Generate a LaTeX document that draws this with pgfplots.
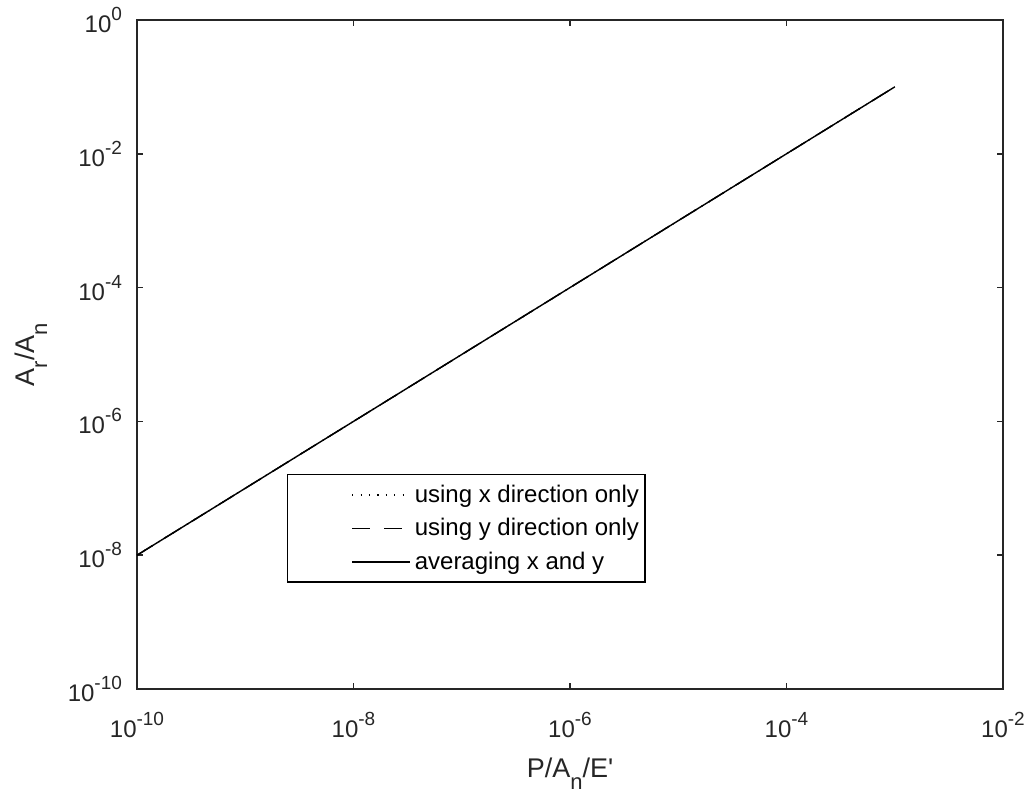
\documentclass[border=0pt]{standalone}
\usepackage{fontspec}
\setmainfont{Liberation Sans}
\usepackage{pgfplots}
\pgfplotsset{compat=1.18}
\definecolor{axgray}{gray}{0.15}
% MATLAB-like tex powers and subscripts
\newcommand{\tp}[1]{10\raisebox{0.5em}{\fontsize{9.5}{10}\selectfont #1}}
\newcommand{\sub}[1]{\raisebox{-0.45em}{\fontsize{11}{11}\selectfont #1}}

\begin{document}
\begin{tikzpicture}
\begin{loglogaxis}[
  scale only axis,
  width=433pt, height=334.5pt,
  xmin=1e-10, xmax=1e-2,
  ymin=1e-10, ymax=1,
  xtick={1e-10,1e-8,1e-6,1e-4,1e-2},
  xticklabels={\tp{-10},\tp{-8},\tp{-6},\tp{-4},\tp{-2}},
  ytick={1e-10,1e-8,1e-6,1e-4,1e-2,1},
  yticklabels={\tp{-10},\tp{-8},\tp{-6},\tp{-4},\tp{-2},\tp{0}},
  xminorticks=false, yminorticks=false,
  tick align=inside,
  major tick length=3pt,
  axis line style={axgray, line width=0.8pt},
  tick style={axgray, line width=0.8pt},
  ticklabel style={font=\fontsize{12}{14}\selectfont, text=axgray},
  xticklabel style={yshift=-8pt},
  yticklabel style={xshift=-4pt},
  xlabel={P/A\sub{n}/E\textquotesingle},
  ylabel={A\sub{r}/A\sub{n}},
  every axis x label/.style={at={(axis description cs:0.5,0)}, yshift=-44pt, anchor=base,
    font=\fontsize{13.5}{15}\selectfont, text=axgray},
  every axis y label/.style={at={(axis description cs:0,0.5)}, xshift=-51pt, rotate=90, anchor=base,
    font=\fontsize{13.5}{15}\selectfont, text=axgray},
  legend image code/.code={\path (-31pt,0pt); \draw[#1] (0pt,0pt) -- (29pt,0pt);},
  legend style={at={(0.173,0.321)}, anchor=north west, draw=black, line width=0.6pt,
    font=\fontsize{12}{13}\selectfont, cells={anchor=west}, row sep=2.5pt,
    inner xsep=1pt, inner ysep=3pt},
]
\addplot[black, line width=0.7pt, dash pattern=on 0.6pt off 3.6pt] coordinates {
  (1e-10,1e-8) (1e-9,1e-7) (1e-8,1e-6) (1e-7,1e-5) (1e-6,1e-4) (1e-5,1e-3) (1e-4,1e-2) (1e-3,1e-1)};
\addplot[black, line width=0.7pt, dash pattern=on 9pt off 7pt] coordinates {
  (1e-10,1e-8) (1e-9,1e-7) (1e-8,1e-6) (1e-7,1e-5) (1e-6,1e-4) (1e-5,1e-3) (1e-4,1e-2) (1e-3,1e-1)};
\addplot[black, line width=0.7pt] coordinates {
  (1e-10,1e-8) (1e-9,1e-7) (1e-8,1e-6) (1e-7,1e-5) (1e-6,1e-4) (1e-5,1e-3) (1e-4,1e-2) (1e-3,1e-1)};
\legend{using x direction only, using y direction only, averaging x and y}
\end{loglogaxis}
\pgfresetboundingbox
\path ([shift={(-68.5pt,-53.5pt)}]current axis.south west) rectangle ([shift={(16.5pt,10pt)}]current axis.north east);
\end{tikzpicture}
\end{document}
